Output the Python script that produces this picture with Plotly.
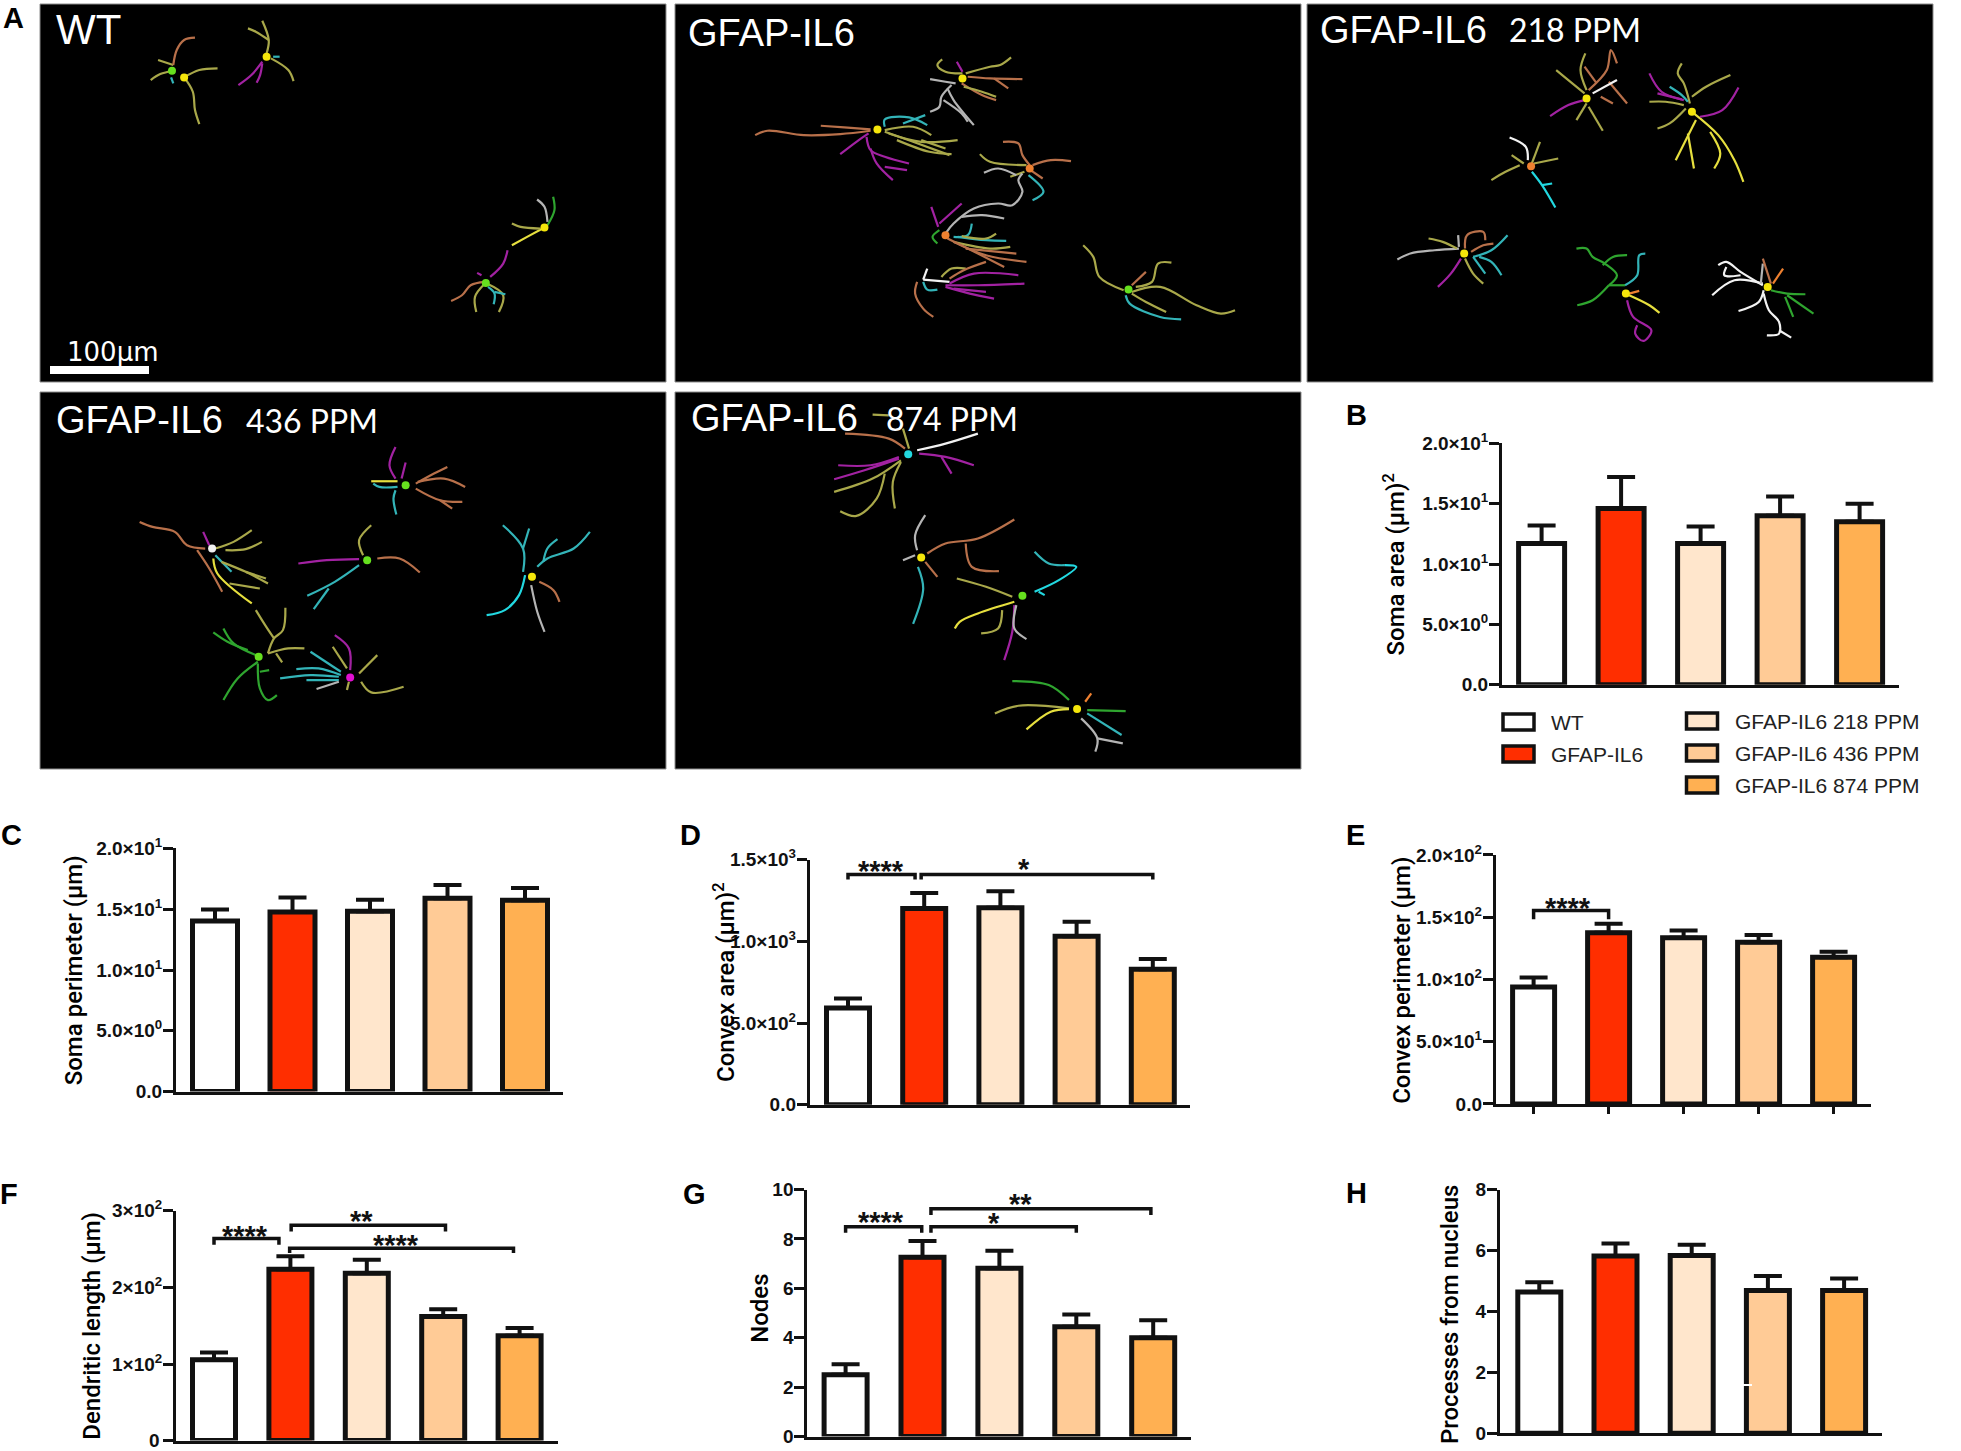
import plotly.graph_objects as go

W, H = 1961, 1451
FONT = "Liberation Sans"
INK = "#111111"

# --- bar data ---
GROUPS = ["WT", "GFAP-IL6", "GFAP-IL6 218 PPM", "GFAP-IL6 436 PPM", "GFAP-IL6 874 PPM"]
GROUP_COLORS = ["#FFFFFF", "#FF2E00", "#FFE6CC", "#FFCB96", "#FFB052"]

SOMA_AREA = [11.7, 14.6, 11.7, 14.0, 13.5]
SOMA_AREA_SEM = [1.5, 2.6, 1.4, 1.6, 1.5]
SOMA_PERIM = [14.03, 14.77, 14.83, 15.9, 15.74]
SOMA_PERIM_SEM = [0.94, 1.2, 0.94, 1.1, 1.0]
CONVEX_AREA = [592, 1202, 1207, 1032, 830]
CONVEX_AREA_SEM = [58, 95, 100, 88, 62]
CONVEX_PERIM = [93.8, 137.4, 133.4, 129.8, 117.7]
CONVEX_PERIM_SEM = [7.8, 7.2, 5.9, 5.9, 4.6]
DENDRITE_LEN = [105.5, 223.8, 218.4, 162, 137]
DENDRITE_LEN_SEM = [9.5, 17, 17.6, 9.5, 10]
NODES = [2.5, 7.26, 6.81, 4.45, 4.0]
NODES_SEM = [0.43, 0.66, 0.71, 0.49, 0.71]
PROCESSES = [4.64, 5.82, 5.84, 4.69, 4.69]
PROCESSES_SEM = [0.32, 0.41, 0.35, 0.47, 0.39]

TICKS_SOMA = [0, 5, 10, 15, 20]
LABELS_SOMA = ["0.0", "5.0×10<sup>0</sup>", "1.0×10<sup>1</sup>", "1.5×10<sup>1</sup>", "2.0×10<sup>1</sup>"]
TICKS_CA = [0, 500, 1000, 1500]
LABELS_CA = ["0.0", "5.0×10<sup>2</sup>", "1.0×10<sup>3</sup>", "1.5×10<sup>3</sup>"]
TICKS_CP = [0, 50, 100, 150, 200]
LABELS_CP = ["0.0", "5.0×10<sup>1</sup>", "1.0×10<sup>2</sup>", "1.5×10<sup>2</sup>", "2.0×10<sup>2</sup>"]
TICKS_DL = [0, 100, 200, 300]
# the 0 of panel F sits at the page edge and plotly drops it, it is added as a note below
LABELS_DL = ["", "1×10<sup>2</sup>", "2×10<sup>2</sup>", "3×10<sup>2</sup>"]
TICKS_NODES = [0, 2, 4, 6, 8, 10]
TICKS_PROC = [0, 2, 4, 6, 8]

# significance brackets: x0, x1, y, drop, stars, star x, star y
BRACKETS_D = [(0, 0.88, 1410, 30, "****", 0.43, 1467), (0.96, 4.0, 1410, 30, "*", 2.31, 1480)]
BRACKETS_E = [(0, 1.0, 155.4, 7, "****", 0.46, 162)]
BRACKETS_F = [(0, 0.85, 263.7, 8, "****", 0.41, 275), (1.01, 3.03, 281, 8, "**", 1.93, 294),
              (0.99, 3.92, 251, 6, "****", 2.38, 262.6)]
BRACKETS_G = [(0, 0.99, 8.5, 0.25, "****", 0.46, 8.93), (1.11, 3.0, 8.5, 0.25, "*", 1.93, 8.89),
              (1.11, 3.97, 9.22, 0.25, "**", 2.28, 9.64)]

# --- traced cells of the micrographs, in each image's own coordinates ---
OLIVE, ORANGE, MAGENTA, TEAL = "#A9A84A", "#B8704A", "#A222A2", "#33B4B8"
GREY, YELLOW, GREEN, WHITE = "#B4B4B4", "#E6DF3E", "#2FA52F", "#F2F2F2"
CYAN, LIME, SUN, PINK, TAN = "#22D8E0", "#66E01E", "#F5E60A", "#E010D0", "#EE8030"

IMG_WT = [
    (OLIVE, [(400, 195), (365, 180)]), (OLIVE, [(400, 212), (370, 222), (348, 240)]),
    (OLIVE, [(425, 232), (460, 210), (502, 205)]), (OLIVE, [(425, 232), (445, 275), (450, 330), (460, 372)]),
    (ORANGE, [(400, 195), (408, 150), (425, 120), (450, 113)]), (TEAL, [(395, 232), (400, 250)]),
    (OLIVE, [(615, 160), (620, 120), (605, 62)]), (OLIVE, [(620, 120), (590, 95), (572, 85)]),
    (OLIVE, [(625, 175), (665, 210), (677, 243)]), (MAGENTA, [(605, 185), (580, 225), (550, 255)]),
    (MAGENTA, [(605, 190), (600, 225), (592, 248)]), (TEAL, [(630, 170), (645, 170)]),
    (YELLOW, [(1255, 682), (1215, 710), (1180, 735)]), (OLIVE, [(1245, 685), (1200, 680), (1180, 670)]),
    (GREEN, [(1262, 675), (1278, 630), (1275, 590)]), (GREY, [(1262, 665), (1255, 620), (1238, 598)]),
    (MAGENTA, [(1170, 750), (1160, 790), (1130, 830)]), (MAGENTA, [(1110, 825), (1100, 818)]),
    (ORANGE, [(1118, 845), (1085, 855), (1065, 885), (1040, 902)]),
    (OLIVE, [(1118, 850), (1095, 890), (1098, 935)]), (OLIVE, [(1122, 850), (1160, 885), (1150, 935)]),
    (TEAL, [(1125, 860), (1140, 880), (1138, 912)]), (TEAL, [(1140, 875), (1165, 882)]),
]
SOMA_WT = [(LIME, 397, 212), (SUN, 425, 232), (SUN, 615, 170), (SUN, 1255, 682), (LIME, 1120, 848)]

IMG_IL6 = [
    (OLIVE, [(722, 220), (680, 215), (660, 195), (672, 178)]), (OLIVE, [(730, 220), (790, 200), (815, 195), (842, 172)]),
    (MAGENTA, [(722, 215), (708, 185)]), (ORANGE, [(735, 230), (790, 235), (870, 237)]),
    (ORANGE, [(800, 235), (835, 265)]), (ORANGE, [(720, 250), (770, 285), (805, 300)]),
    (OLIVE, [(725, 260), (770, 275), (805, 290)]), (GREY, [(705, 250), (680, 245), (642, 237)]),
    (GREY, [(695, 255), (670, 290), (665, 320), (642, 335)]), (GREY, [(685, 265), (700, 300), (750, 375)]),
    (GREY, [(675, 300), (720, 340), (735, 365)]),
    (ORANGE, [(495, 392), (420, 402), (330, 405), (240, 392), (210, 405)]), (ORANGE, [(495, 388), (430, 382), (372, 377)]),
    (MAGENTA, [(490, 400), (460, 425), (420, 462)]), (MAGENTA, [(485, 410), (495, 450), (530, 470), (590, 490)]),
    (MAGENTA, [(495, 445), (510, 490), (550, 540)]), (MAGENTA, [(530, 500), (585, 510)]),
    (TEAL, [(530, 380), (530, 358), (590, 352), (635, 375)]), (TEAL, [(575, 370), (630, 345)]),
    (OLIVE, [(530, 390), (600, 380), (645, 405)]), (OLIVE, [(530, 395), (600, 425), (690, 465)]),
    (OLIVE, [(540, 400), (620, 425), (710, 420)]), (OLIVE, [(560, 420), (640, 455), (695, 462)]),
    (OLIVE, [(620, 420), (680, 445)]),
    (ORANGE, [(888, 495), (870, 465), (860, 430), (822, 425)]), (ORANGE, [(895, 495), (940, 480), (990, 483)]),
    (ORANGE, [(890, 510), (920, 535)]), (OLIVE, [(880, 495), (790, 485), (765, 462)]), (OLIVE, [(875, 515), (840, 530)]),
    (TEAL, [(885, 525), (922, 575), (895, 600)]),
    (GREY, [(870, 520), (860, 540), (870, 575), (845, 615), (810, 610), (750, 625), (700, 670), (680, 700)]),
    (GREY, [(855, 525), (810, 505), (775, 518)]),
    (GREEN, [(665, 690), (648, 710), (660, 730)]), (MAGENTA, [(662, 680), (645, 620)]), (MAGENTA, [(665, 670), (720, 610)]),
    (GREY, [(720, 650), (770, 645), (825, 655)]), (TEAL, [(700, 710), (735, 705), (745, 670)]),
    (TEAL, [(710, 710), (780, 720), (830, 722)]), (OLIVE, [(720, 708), (780, 715), (805, 700)]),
    (OLIVE, [(700, 725), (790, 745), (840, 740)]), (ORANGE, [(685, 715), (760, 760), (825, 800)]),
    (ORANGE, [(700, 725), (780, 765), (880, 785)]), (ORANGE, [(730, 745), (855, 760)]),
    (WHITE, [(625, 838), (690, 845)]), (WHITE, [(625, 838), (635, 805)]), (TEAL, [(625, 845), (635, 868), (660, 868)]),
    (OLIVE, [(670, 830), (695, 805), (730, 805)]), (ORANGE, [(690, 835), (725, 810), (780, 785)]),
    (ORANGE, [(610, 845), (605, 880), (625, 925), (650, 950)]), (MAGENTA, [(690, 850), (750, 820), (860, 825)]),
    (MAGENTA, [(680, 855), (760, 855), (875, 850)]), (MAGENTA, [(680, 860), (740, 880), (800, 895)]),
    (MAGENTA, [(700, 865), (780, 875)]),
    (OLIVE, [(1120, 870), (1060, 830), (1045, 770), (1020, 735)]), (OLIVE, [(1150, 860), (1190, 845), (1205, 790), (1238, 787)]),
    (OLIVE, [(1140, 875), (1210, 860), (1300, 915), (1360, 940), (1395, 930)]), (OLIVE, [(1140, 880), (1175, 905), (1225, 935)]),
    (ORANGE, [(1140, 855), (1175, 815)]), (TEAL, [(1125, 885), (1135, 910), (1210, 950), (1262, 957)]),
]
SOMA_IL6 = [(SUN, 722, 235), (SUN, 512, 388), (TAN, 888, 505), (TAN, 680, 705), (LIME, 1132, 868)]

IMG_218 = [
    (OLIVE, [(690, 280), (650, 240), (620, 210)]), (OLIVE, [(695, 270), (680, 210), (692, 160)]),
    (ORANGE, [(700, 270), (745, 210), (755, 150), (770, 190)]), (ORANGE, [(720, 250), (690, 200)]),
    (ORANGE, [(750, 245), (795, 310)]), (ORANGE, [(730, 290), (760, 310)]), (WHITE, [(710, 280), (770, 240)]),
    (MAGENTA, [(690, 300), (650, 315), (605, 348)]), (OLIVE, [(695, 310), (670, 360)]), (OLIVE, [(700, 320), (735, 392)]),
    (YELLOW, [(955, 335), (1020, 405), (1060, 480), (1082, 545)]), (YELLOW, [(965, 360), (940, 420), (915, 480)]),
    (YELLOW, [(945, 400), (960, 505)]), (YELLOW, [(1000, 395), (1025, 460), (1010, 505)]),
    (OLIVE, [(950, 310), (935, 250), (920, 220), (930, 190)]), (OLIVE, [(955, 290), (990, 260), (1050, 225)]),
    (OLIVE, [(940, 325), (900, 370), (870, 385)]), (OLIVE, [(935, 315), (890, 305), (850, 305)]),
    (TEAL, [(945, 305), (930, 285), (900, 260)]), (MAGENTA, [(975, 350), (1030, 330), (1070, 262)]),
    (MAGENTA, [(935, 300), (880, 275), (850, 220)]), (MAGENTA, [(930, 298), (870, 280)]),
    (WHITE, [(550, 480), (545, 440), (505, 412)]), (OLIVE, [(560, 490), (580, 425)]), (OLIVE, [(565, 490), (625, 475)]),
    (OLIVE, [(540, 490), (510, 465)]), (OLIVE, [(530, 495), (495, 515), (460, 540)]),
    (CYAN, [(560, 515), (585, 555), (618, 622)]), (CYAN, [(585, 555), (610, 550)]),
    (GREY, [(380, 745), (320, 750), (260, 760), (228, 778)]), (GREY, [(380, 740), (378, 705)]),
    (OLIVE, [(375, 745), (340, 725), (305, 715)]), (OLIVE, [(395, 775), (415, 820), (440, 850)]),
    (ORANGE, [(395, 745), (400, 705), (440, 695), (445, 720)]), (ORANGE, [(410, 755), (440, 735), (465, 730)]),
    (TEAL, [(415, 770), (460, 750), (500, 705)]), (TEAL, [(415, 770), (445, 820)]), (TEAL, [(430, 770), (460, 785), (485, 825)]),
    (MAGENTA, [(385, 775), (360, 820), (328, 860)]),
    (GREEN, [(750, 855), (770, 825), (740, 790), (710, 770), (695, 745), (670, 745)]), (GREEN, [(735, 795), (760, 770), (795, 765)]),
    (GREEN, [(750, 855), (710, 900), (672, 915)]), (GREEN, [(750, 855), (790, 855)]),
    (TEAL, [(790, 855), (820, 825), (825, 765), (840, 760)]), (YELLOW, [(800, 885), (850, 915), (875, 938)]),
    (TAN, [(800, 880), (825, 872)]), (MAGENTA, [(795, 900), (810, 950), (855, 990), (835, 1022), (815, 1000), (820, 975)]),
    (WHITE, [(1130, 855), (1075, 815), (1040, 785), (1020, 795)]), (WHITE, [(1075, 825), (1035, 825), (1040, 800)]),
    (WHITE, [(1130, 850), (1060, 840), (1005, 885)]), (WHITE, [(1132, 870), (1120, 905), (1070, 932)]),
    (WHITE, [(1132, 880), (1145, 930), (1170, 965), (1170, 1000), (1140, 1005)]), (WHITE, [(1170, 990), (1200, 1012)]),
    (GREY, [(1125, 850), (1130, 790)]), (ORANGE, [(1150, 850), (1130, 775)]), (TAN, [(1155, 850), (1180, 805)]),
    (GREEN, [(1150, 870), (1190, 880), (1235, 882)]), (GREEN, [(1190, 885), (1255, 940)]), (GREEN, [(1185, 890), (1205, 950)]),
]
SOMA_218 = [(SUN, 695, 295), (SUN, 955, 335), (TAN, 558, 498), (SUN, 393, 760), (SUN, 792, 880), (SUN, 1142, 860)]

IMG_436 = [
    (MAGENTA, [(890, 280), (875, 240), (890, 185)]), (MAGENTA, [(905, 280), (915, 232)]), (YELLOW, [(895, 288), (830, 288)]),
    (TEAL, [(895, 305), (850, 305), (835, 295)]), (TEAL, [(890, 315), (885, 340), (892, 388)]),
    (ORANGE, [(940, 295), (985, 265), (1018, 245)]), (ORANGE, [(945, 290), (1010, 280), (1062, 305)]),
    (ORANGE, [(940, 310), (1000, 345), (1055, 350)]), (ORANGE, [(1000, 345), (1030, 370)]),
    (ORANGE, [(420, 490), (375, 480), (345, 440), (290, 425), (258, 410)]), (ORANGE, [(400, 495), (430, 550), (462, 620)]),
    (MAGENTA, [(430, 480), (415, 440)]), (OLIVE, [(445, 490), (490, 470), (535, 435)]), (OLIVE, [(470, 495), (520, 492), (560, 470)]),
    (TEAL, [(445, 510), (485, 560)]), (YELLOW, [(440, 520), (450, 565), (535, 655)]), (OLIVE, [(460, 530), (520, 560), (575, 595)]),
    (OLIVE, [(520, 560), (570, 580)]), (OLIVE, [(480, 595), (555, 610)]),
    (MAGENTA, [(800, 522), (720, 525), (650, 535)]), (OLIVE, [(810, 510), (800, 465), (830, 420)]),
    (ORANGE, [(845, 520), (900, 520), (950, 562)]), (TEAL, [(800, 540), (740, 590), (672, 632)]), (TEAL, [(725, 610), (688, 672)]),
    (TEAL, [(1205, 560), (1205, 490), (1155, 420)]), (TEAL, [(1205, 490), (1220, 430)]),
    (TEAL, [(1240, 545), (1265, 520), (1330, 490), (1370, 440)]), (TEAL, [(1255, 530), (1265, 490), (1290, 462)]),
    (CYAN, [(1210, 570), (1195, 630), (1160, 675), (1115, 690)]), (GREY, [(1225, 600), (1240, 680), (1258, 740)]),
    (ORANGE, [(1245, 590), (1280, 615), (1295, 650)]),
    (OLIVE, [(575, 805), (590, 760), (612, 735), (618, 668)]), (OLIVE, [(590, 760), (568, 720), (545, 675)]),
    (OLIVE, [(575, 805), (625, 790), (665, 790)]), (OLIVE, [(595, 805), (610, 832)]),
    (GREEN, [(545, 810), (490, 775), (465, 730)]), (GREEN, [(525, 795), (475, 770), (440, 742)]),
    (GREEN, [(550, 830), (500, 880), (465, 945)]), (GREEN, [(550, 835), (555, 910), (575, 945), (597, 930)]),
    (GREEN, [(555, 860), (578, 855)]),
    (MAGENTA, [(778, 855), (775, 790), (740, 750)]), (OLIVE, [(770, 850), (735, 785)]), (OLIVE, [(800, 865), (845, 810)]),
    (OLIVE, [(805, 890), (830, 922), (910, 905)]), (OLIVE, [(775, 890), (770, 915)]), (TEAL, [(755, 860), (680, 800)]),
    (TEAL, [(755, 870), (700, 850), (645, 852)]), (TEAL, [(750, 875), (680, 870), (605, 880)]), (TEAL, [(750, 885), (670, 885)]),
    (GREY, [(750, 890), (695, 912)]),
]
SOMA_436 = [(LIME, 915, 300), (WHITE, 437, 490), (LIME, 820, 525), (SUN, 1227, 575), (LIME, 552, 815), (PINK, 778, 877)]

IMG_874 = [
    (WHITE, [(610, 195), (680, 175), (760, 145)]), (ORANGE, [(580, 190), (540, 160), (432, 145)]),
    (OLIVE, [(590, 190), (575, 130)]), (OLIVE, [(500, 88), (540, 90)]), (MAGENTA, [(565, 215), (495, 240), (415, 240)]),
    (MAGENTA, [(565, 220), (480, 255), (405, 282)]), (MAGENTA, [(615, 205), (680, 215), (750, 240)]), (MAGENTA, [(670, 215), (695, 265)]),
    (OLIVE, [(570, 225), (500, 280), (405, 320)]), (OLIVE, [(530, 265), (510, 340), (460, 392), (420, 378)]),
    (OLIVE, [(570, 230), (550, 290), (555, 370)]),
    (GREY, [(610, 495), (605, 450), (630, 390)]), (GREY, [(605, 510), (575, 525)]),
    (ORANGE, [(635, 505), (680, 475), (760, 460), (850, 403)]), (ORANGE, [(730, 475), (745, 545), (812, 558)]),
    (ORANGE, [(630, 530), (660, 575)]), (TEAL, [(612, 545), (625, 610), (600, 716)]),
    (CYAN, [(900, 620), (960, 585), (1003, 545), (975, 540)]), (TEAL, [(975, 540), (935, 535), (900, 500)]), (CYAN, [(910, 620), (925, 630)]),
    (OLIVE, [(845, 635), (780, 605), (708, 580)]), (YELLOW, [(850, 650), (760, 685), (715, 710), (703, 730)]),
    (OLIVE, [(820, 675), (810, 730), (768, 745)]), (MAGENTA, [(850, 660), (845, 740), (825, 825)]),
    (GREY, [(855, 660), (850, 730), (880, 762)]),
    (GREEN, [(985, 945), (935, 900), (845, 888)]), (GREEN, [(1030, 975), (1125, 978)]), (TAN, [(1025, 950), (1040, 925)]),
    (OLIVE, [(985, 970), (860, 962), (802, 985)]), (YELLOW, [(985, 972), (940, 980), (880, 1033)]),
    (TEAL, [(1030, 985), (1115, 1050)]), (GREY, [(1015, 1000), (1055, 1060), (1050, 1100)]), (GREY, [(1055, 1060), (1118, 1075)]),
]
SOMA_874 = [(CYAN, 588, 207), (SUN, 620, 517), (LIME, 870, 632), (SUN, 1005, 972)]

fig = go.Figure()
shapes, notes = [], []
layout_axes = {}
axis_no = 0


def xp(x):
    return x / W


def yp(y):
    return 1 - y / H


def new_axes(left, right, top, bottom):
    global axis_no
    axis_no += 1
    sfx = "" if axis_no == 1 else str(axis_no)
    # the default template turns automargin on, which squeezes the whole page
    layout_axes["xaxis" + sfx] = dict(domain=[xp(left), xp(right)], anchor="y" + sfx, automargin=False)
    layout_axes["yaxis" + sfx] = dict(domain=[yp(bottom), yp(top)], anchor="x" + sfx, automargin=False)
    return sfx


def text(x, y, s, size, color=INK, bold=False, family=FONT, xanchor="center", angle=0, weight="normal"):
    notes.append(dict(x=xp(x), y=yp(y), xref="paper", yref="paper", text=f"<b>{s}</b>" if bold else s,
                      showarrow=False, xanchor=xanchor, yanchor="middle", textangle=angle,
                      font=dict(family=family, size=size, color=color, weight=weight)))


def image_panel(box, span, branches, somas):
    left, right, top, bottom = box
    shapes.append(dict(type="rect", xref="paper", yref="paper", x0=xp(left), x1=xp(right), y0=yp(top), y1=yp(bottom),
                       fillcolor="black", line=dict(color="#8c8c8c", width=1), layer="below"))
    sfx = new_axes(left, right, top, bottom)
    layout_axes["xaxis" + sfx].update(range=[span[0], span[1]], visible=False)
    layout_axes["yaxis" + sfx].update(range=[span[3], span[2]], visible=False)
    for color, pts in branches:
        fig.add_trace(go.Scatter(x=[p[0] for p in pts], y=[p[1] for p in pts], mode="lines", xaxis="x" + sfx, yaxis="y" + sfx,
                                 line=dict(color=color, width=2.2, shape="spline"), hoverinfo="skip", showlegend=False))
    for color, x, y in somas:
        fig.add_trace(go.Scatter(x=[x], y=[y], mode="markers", xaxis="x" + sfx, yaxis="y" + sfx,
                                 marker=dict(color=color, size=8), hoverinfo="skip", showlegend=False))


def bar_panel(means, sems, tickvals, ticktext, box, c0, step, width, ytitle, title_xy, brackets=(), xticks=False):
    left, right, top, bottom = box
    sfx = new_axes(left, right, top, bottom)
    lw = 5
    fig.add_trace(go.Bar(x=list(range(5)), y=means, width=(width - lw) / step, xaxis="x" + sfx, yaxis="y" + sfx,
                         marker=dict(color=GROUP_COLORS, line=dict(color=INK, width=lw)),
                         error_y=dict(type="data", array=sems, symmetric=False, arrayminus=[0] * 5,
                                      color=INK, thickness=4, width=14),
                         hovertext=GROUPS, showlegend=False))
    layout_axes["xaxis" + sfx].update(range=[(left - c0) / step, (right - c0) / step], showline=True, linecolor=INK, linewidth=3,
                                      showgrid=False, zeroline=False, showticklabels=False, tickvals=list(range(5)),
                                      ticks="outside" if xticks else "", ticklen=7, tickwidth=3, tickcolor=INK)
    layout_axes["yaxis" + sfx].update(range=[0, tickvals[-1]], showline=True, linecolor=INK, linewidth=3, showgrid=False,
                                      zeroline=False, tickvals=tickvals, ticktext=ticktext, ticks="outside", ticklen=10,
                                      tickwidth=3, tickcolor=INK, ticklabelstandoff=-3, ticklabeloverflow="allow",
                                      tickfont=dict(family=FONT, size=19, color=INK, weight="bold"))
    text(title_xy[0], title_xy[1], ytitle, 24, "#000000", family="Roboto", angle=-90, weight=500)
    for x0, x1, y, drop, stars, sx, sy in brackets:
        fig.add_trace(go.Scatter(x=[x0, x0, x1, x1], y=[y - drop, y, y, y - drop], mode="lines", xaxis="x" + sfx, yaxis="y" + sfx,
                                 line=dict(color=INK, width=3.5), hoverinfo="skip", showlegend=False))
        notes.append(dict(x=sx, y=sy, xref="x" + sfx, yref="y" + sfx, text=f"<b>{stars}</b>", showarrow=False, yshift=-6,
                          font=dict(family=FONT, size=29, color=INK)))


# micrographs
image_panel((40, 666, 4, 382), (93, 1535, 12, 1145), IMG_WT, SOMA_WT)
image_panel((675, 1301, 4, 382), (12, 1558, 12, 1145), IMG_IL6, SOMA_IL6)
image_panel((1307, 1933, 4, 382), (5, 1550, 12, 1145), IMG_218, SOMA_218)
image_panel((40, 666, 392, 769), (12, 1558, 20, 1152), IMG_436, SOMA_436)
image_panel((675, 1301, 392, 769), (12, 1558, 20, 1152), IMG_874, SOMA_874)

text(54, 30, "WT", 42, "white", xanchor="left")
text(686, 33, "GFAP-IL6", 38, "white", xanchor="left")
text(1318, 30, "GFAP-IL6", 38, "white", xanchor="left")
text(1507, 30, "218 PPM", 32, "white", family="Lato", xanchor="left")
text(54, 420, "GFAP-IL6", 38, "white", xanchor="left")
text(244, 420, "436 PPM", 32, "white", family="Lato", xanchor="left")
text(689, 418, "GFAP-IL6", 38, "white", xanchor="left")
text(884, 418, "874 PPM", 32, "white", family="Lato", xanchor="left")
text(65, 352, "100µm", 26, "white", family="DejaVu Sans", xanchor="left")
shapes.append(dict(type="rect", xref="paper", yref="paper", x0=xp(50), x1=xp(149), y0=yp(366), y1=yp(374),
                   fillcolor="white", line=dict(width=0)))

# bar charts
bar_panel(SOMA_AREA, SOMA_AREA_SEM, TICKS_SOMA, LABELS_SOMA, (1502, 1899, 443.3, 684.7), 1541.6, 79.5, 51,
          "Soma area (µm)<sup>2</sup>", (1393.5, 565))
bar_panel(SOMA_PERIM, SOMA_PERIM_SEM, TICKS_SOMA, LABELS_SOMA, (176, 563, 848.4, 1091.6), 215, 77.5, 50,
          "Soma perimeter (µm)", (73.7, 970.6))
bar_panel(CONVEX_AREA, CONVEX_AREA_SEM, TICKS_CA, LABELS_CA, (809.8, 1190.3, 859.8, 1104.7), 848, 76.2, 48,
          "Convex area (µm)<sup>2</sup>", (724, 982), BRACKETS_D)
bar_panel(CONVEX_PERIM, CONVEX_PERIM_SEM, TICKS_CP, LABELS_CP, (1495.8, 1871, 854.9, 1103.9), 1533.6, 75, 47,
          "Convex perimeter (µm)", (1401.8, 980), BRACKETS_E, xticks=True)
bar_panel(DENDRITE_LEN, DENDRITE_LEN_SEM, TICKS_DL, LABELS_DL, (176, 557.7, 1210.8, 1440.6), 214, 76.4, 48,
          "Dendritic length (µm)", (91.7, 1326), BRACKETS_F)
text(162, 1440, "0", 19, xanchor="right", bold=True)
bar_panel(NODES, NODES_SEM, TICKS_NODES, [str(v) for v in TICKS_NODES], (807.3, 1191, 1189.6, 1436.5), 845.6, 76.9, 48,
          "Nodes", (760, 1308.8), BRACKETS_G)
bar_panel(PROCESSES, PROCESSES_SEM, TICKS_PROC, [str(v) for v in TICKS_PROC], (1499.9, 1882, 1189.6, 1433.3), 1539.3, 76.2, 48,
          "Processes from nucleus", (1450, 1315))

# small white scratch on the 436 PPM bar of panel H
shapes.append(dict(type="line", xref="paper", yref="paper", x0=xp(1741), x1=xp(1752), y0=yp(1385), y1=yp(1385),
                   line=dict(color="white", width=2)))

# legend drawn by hand, two columns as in the figure
legend_spots = [(1503, 714), (1503, 746), (1686.5, 713), (1686.5, 745), (1686.5, 777)]
for name, color, (lx, ly) in zip(GROUPS, GROUP_COLORS, legend_spots):
    shapes.append(dict(type="rect", xref="paper", yref="paper", x0=xp(lx), x1=xp(lx + 31), y0=yp(ly), y1=yp(ly + 16),
                       fillcolor=color, line=dict(color=INK, width=3.5)))
    text(lx + 46, ly + 8, name, 21, "#222222", xanchor="left")

# panel letters
for letter, lx, ly in [("A", 13, 18), ("B", 1356, 415), ("C", 11, 835), ("D", 690, 835), ("E", 1355, 835),
                       ("F", 9, 1194), ("G", 694, 1194), ("H", 1356, 1193)]:
    text(lx, ly, letter, 29, "black", bold=True)

fig.update_layout(width=W, height=H, margin=dict(l=0, r=0, t=0, b=0), paper_bgcolor="white", plot_bgcolor="rgba(0,0,0,0)",
                  showlegend=False, shapes=shapes, annotations=notes, **layout_axes)
fig.write_html("out.html", config={"displayModeBar": False}, post_script="document.body.style.margin='0';")
